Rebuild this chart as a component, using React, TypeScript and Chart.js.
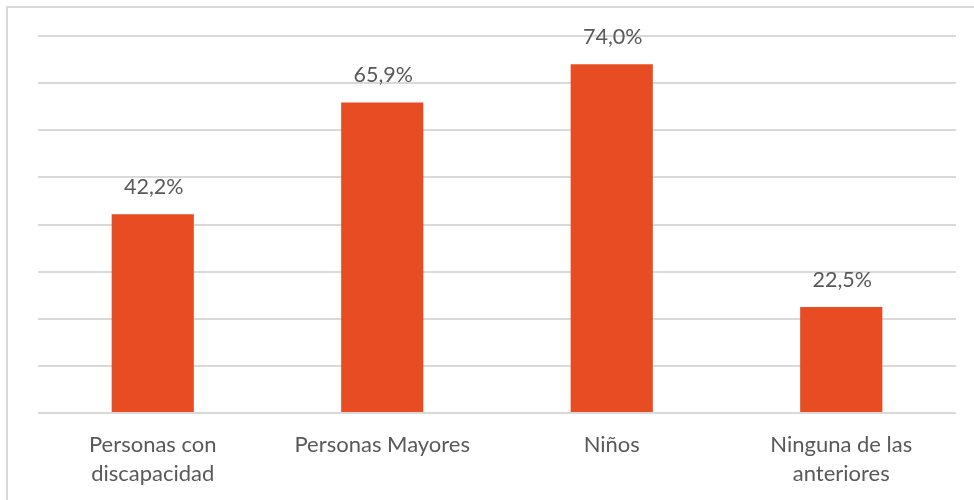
import React, { useEffect, useRef } from "react";
import { Chart, registerables } from "chart.js";

Chart.register(...registerables);

const categories: (string | string[])[] = [
  ["Personas con", "discapacidad"],
  "Personas Mayores",
  "Niños",
  ["Ninguna de las", "anteriores"],
];
const values: number[] = [42.2, 65.9, 74.0, 22.5];
const valueLabels: string[] = ["42,2%", "65,9%", "74,0%", "22,5%"];

const FONT = "Lato, 'Open Sans', sans-serif";
const TEXT = "#595959";

const labelPlugin = {
  id: "barLabels",
  afterDatasetsDraw(chart: any) {
    const ctx = chart.ctx;
    const meta = chart.getDatasetMeta(0);
    ctx.save();
    ctx.fillStyle = TEXT;
    ctx.font = `21.5px ${FONT}`;
    ctx.textAlign = "center";
    ctx.textBaseline = "middle";
    meta.data.forEach((bar: any, i: number) => {
      ctx.fillText(valueLabels[i], bar.x + 1, bar.y - 27);
    });
    ctx.restore();
  },
};

export default function App() {
  const ref = useRef<HTMLCanvasElement | null>(null);
  useEffect(() => {
    document.body.style.margin = "0";
    const chart = new Chart(ref.current!, {
      type: "bar",
      data: {
        labels: categories,
        datasets: [
          {
            data: values,
            backgroundColor: "#E84C22",
            categoryPercentage: 1,
            barPercentage: 0.358,
          },
        ],
      },
      options: {
        animation: false,
        responsive: false,
        maintainAspectRatio: false,
        layout: { padding: { left: 38, right: 18, top: 36, bottom: 0 } },
        plugins: { legend: { display: false }, tooltip: { enabled: false } },
        scales: {
          x: {
            grid: { display: false },
            border: { display: false },
            ticks: {
              color: TEXT,
              font: { family: FONT, size: 22, lineHeight: 1.32 },
              padding: 9,
              maxRotation: 0,
              autoSkip: false,
            },
            afterFit: (s: any) => {
              s.height = 87;
            },
          },
          y: {
            min: 0,
            max: 80,
            ticks: { display: false, stepSize: 10 },
            grid: { color: "#D9D9D9", lineWidth: 2, drawTicks: false },
            border: { display: false },
          },
        },
      },
      plugins: [labelPlugin],
    });
    return () => chart.destroy();
  }, []);
  return (
    <div style={{ position: "relative", width: 974, height: 500, overflow: "hidden", background: "#fff" }}>
      <div
        style={{
          position: "absolute",
          left: 6,
          top: 6,
          width: 1000,
          height: 1000,
          border: "2px solid #D9D9D9",
          boxSizing: "border-box",
        }}
      />
      <canvas ref={ref} width={974} height={500} style={{ position: "absolute", left: 0, top: 0 }} />
    </div>
  );
}
